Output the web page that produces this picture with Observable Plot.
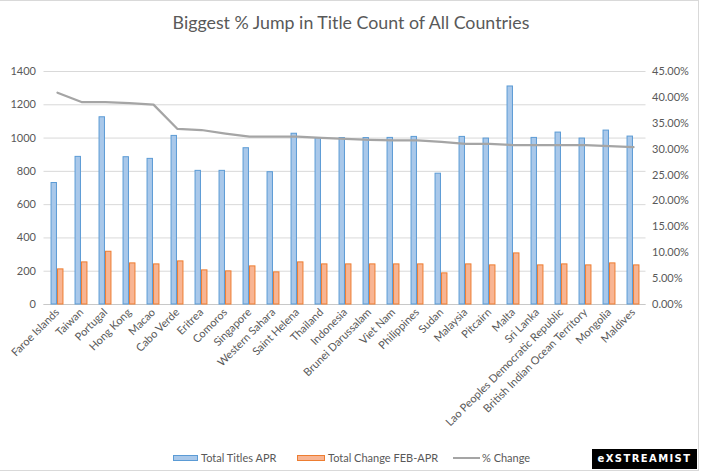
<!DOCTYPE html>
<html>
<head>
<meta charset="utf-8">
<script src="https://cdn.jsdelivr.net/npm/d3@7"></script>
<script src="https://cdn.jsdelivr.net/npm/@observablehq/plot@0.6"></script>
<style>
  html, body { margin: 0; padding: 0; background: #fff; }
  #wrap { position: relative; width: 702px; height: 475px; overflow: hidden; font-family: Lato, "Open Sans", sans-serif; color: #595959; }
  #frame { position: absolute; left: -1px; top: 0px; width: 700px; height: 471px; border: 1px solid #d9d9d9; box-sizing: border-box; pointer-events: none; }
  #title { position: absolute; left: 0; top: 0; width: 702px; height: 45px; line-height: 45px; text-align: center; font-size: 17.8px; color: #595959; }
  #chart { position: absolute; left: 0; top: 45px; }
  .leg { position: absolute; top: 450px; font-size: 11px; line-height: 16px; color: #595959; white-space: nowrap; }
  .sw { position: absolute; top: 5px; height: 6px; box-sizing: border-box; }
  #logo { position: absolute; left: 592px; top: 449px; width: 105px; height: 20px; background: #000; color: #fff; font-family: "DejaVu Sans", sans-serif; font-weight: bold; font-size: 10px; line-height: 20px; text-align: center; letter-spacing: 1.4px; }
</style>
</head>
<body>
<div id="wrap">
  <div id="frame"></div>
  <div id="title">Biggest % Jump in Title Count of All Countries</div>
  <div id="chart"></div>
  <div class="leg" style="left:173px"><div class="sw" style="left:0;width:25px;background:#a9c8ea;border:1px solid #5b9bd5"></div><span style="margin-left:28px">Total Titles APR</span></div>
  <div class="leg" style="left:297px"><div class="sw" style="left:0;width:28px;background:#f8b593;border:1px solid #ed7d31"></div><span style="margin-left:31px">Total Change FEB-APR</span></div>
  <div class="leg" style="left:453px"><div class="sw" style="left:0;top:7px;width:27px;height:2px;background:#a5a5a5"></div><span style="margin-left:29px">% Change</span></div>
  <div id="logo">eXSTREAMIST</div>
</div>
<script>
const countries = ["Faroe Islands","Taiwan","Portugal","Hong Kong","Macao","Cabo Verde","Eritrea","Comoros","Singapore","Western Sahara","Saint Helena","Thailand","Indonesia","Brunei Darussalam","Viet Nam","Philippines","Sudan","Malaysia","Pitcairn","Malta","Sri Lanka","Lao Peoples Democratic Republic","British Indian Ocean Territory","Mongolia","Maldives"];
const totalTitlesApr = [730, 887, 1125, 885, 875, 1013, 803, 803, 939, 795, 1026, 998, 1000, 1000, 1001, 1007, 786, 1007, 997, 1310, 1001, 1033, 997, 1045, 1009];
const totalChangeFebApr = [211, 253, 317, 247, 241, 259, 205, 199, 229, 193, 253, 241, 241, 241, 241, 241, 187, 241, 235, 307, 235, 241, 235, 247, 235];
const pctChange = [0.409, 0.391, 0.391, 0.389, 0.386, 0.339, 0.337, 0.330, 0.324, 0.324, 0.324, 0.322, 0.320, 0.318, 0.317, 0.317, 0.314, 0.310, 0.310, 0.308, 0.308, 0.308, 0.308, 0.306, 0.304];
const leftTicks = [0, 200, 400, 600, 800, 1000, 1200, 1400];
const rightTicks = [0, 0.05, 0.10, 0.15, 0.20, 0.25, 0.30, 0.35, 0.40, 0.45];

const leftMax = 1400, rightMax = 0.45;
const k = leftMax / rightMax;
const rows = countries.map((c, i) => ({country: c, apr: totalTitlesApr[i], change: totalChangeFebApr[i], pct: pctChange[i], pctY: pctChange[i] * k}));

const bw = (702 - 43.5 - 56.5) / countries.length;
const half = bw / 2;

const chart = Plot.plot({
  width: 702,
  height: 400,
  marginLeft: 43.5,
  marginRight: 56.5,
  marginTop: 26,
  marginBottom: 141,
  style: {fontFamily: "Lato, 'Open Sans', sans-serif", fontSize: "11px", color: "#595959", background: "transparent"},
  x: {domain: countries, padding: 0, label: null},
  y: {domain: [0, leftMax], label: null},
  marks: [
    Plot.gridY(leftTicks, {stroke: "#d9d9d9", strokeOpacity: 1}),
    Plot.ruleY([0], {stroke: "#c8c8c8"}),
    Plot.barY(rows, {x: "country", y: "apr", fill: "#a9c8ea", stroke: "#5b9bd5", strokeWidth: 1, insetLeft: half - 6, insetRight: half + 0.5}),
    Plot.barY(rows, {x: "country", y: "change", fill: "#f8b593", stroke: "#ed7d31", strokeWidth: 1, insetLeft: half + 0.5, insetRight: half - 6}),
    Plot.lineY(rows, {x: "country", y: "pctY", stroke: "#a5a5a5", strokeWidth: 2.25}),
    Plot.axisY(leftTicks, {anchor: "left", tickSize: 0, tickPadding: 8, fontSize: 11, label: null, tickFormat: d => String(d)}),
    Plot.axisY(rightTicks.map(p => p * k), {anchor: "right", tickSize: 0, tickPadding: 6, fontSize: 11, label: null, textAnchor: "start", tickFormat: d => (d / k * 100).toFixed(2) + "%"}),
    Plot.axisX({tickRotate: -45, tickSize: 0, tickPadding: 6, fontSize: 11, label: null})
  ]
});
document.getElementById("chart").appendChild(chart);
</script>
</body>
</html>
